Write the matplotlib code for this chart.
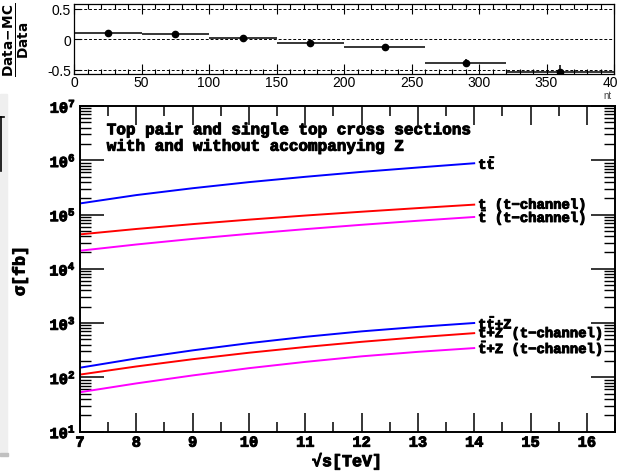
#!/usr/bin/env python3
import matplotlib
matplotlib.use("Agg")
import matplotlib.pyplot as plt
import matplotlib.patheffects as pe
from matplotlib.patches import Rectangle
from matplotlib.lines import Line2D
from matplotlib.ticker import LogLocator, NullFormatter, MultipleLocator

# --- data: cross sections [fb] vs sqrt(s) [TeV] ---
ENERGY = [7, 8, 9, 10, 11, 12, 13, 14]
TTBAR     = [1.60e5, 2.28e5, 3.05e5, 3.95e5, 4.95e5, 6.10e5, 7.35e5, 8.80e5]
T_TCH     = [4.30e4, 5.41e4, 6.65e4, 8.04e4, 9.57e4, 1.125e5, 1.312e5, 1.52e5]
TBAR_TCH  = [2.15e4, 2.80e4, 3.55e4, 4.40e4, 5.37e4, 6.46e4, 7.67e4, 9.00e4]
TTBAR_Z   = [150, 222, 313, 425, 556, 701, 847, 1000]
T_Z       = [112, 158, 215, 283, 361, 450, 546, 650]
TBAR_Z    = [53, 77, 108, 147, 192, 243, 294, 345]

SERIES = [
    (TTBAR,    "#0000ff", r"$\mathbf{t\bar{t}}$"),
    (T_TCH,    "#ff0000", "t (t\u2212channel)"),
    (TBAR_TCH, "#ff00ff", r"$\mathbf{\bar{t}}$ (t" + "\u2212channel)"),
    (TTBAR_Z,  "#0000ff", r"$\mathbf{t\bar{t}}$+Z"),
    (T_Z,      "#ff0000", "t+Z (t\u2212channel)"),
    (TBAR_Z,   "#ff00ff", r"$\mathbf{\bar{t}}$+Z (t" + "\u2212channel)"),
]

# --- data: ratio panel (cropped at top) ---
PT_LO = [0, 50, 100, 150, 200, 260, 320]
PT_HI = [50, 100, 150, 200, 260, 320, 400]
RATIO = [0.11, 0.08, 0.02, -0.055, -0.125, -0.39, -0.545]
RATIO_ERR = [0.01, 0.01, 0.01, 0.01, 0.01, 0.06, 0.125]

MONO = ["Liberation Mono", "DejaVu Sans Mono"]
plt.rcParams["font.family"] = MONO
plt.rcParams["font.weight"] = "bold"
plt.rcParams["mathtext.fontset"] = "custom"
plt.rcParams["mathtext.rm"] = "Liberation Mono:bold"
plt.rcParams["mathtext.bf"] = "Liberation Mono:bold"
plt.rcParams["mathtext.it"] = "Liberation Mono:bold"

HEAVY = [pe.withStroke(linewidth=0.7, foreground="black")]

W, H = 618, 477
fig = plt.figure(figsize=(W / 100, H / 100), dpi=100)

def fx(px):
    return px / W

def fy(py):
    return 1 - py / H

# left grey strip leftover from the screenshot
fig.patches.append(Rectangle((0, fy(455)), fx(7), fy(95) - fy(455),
                             transform=fig.transFigure, color="#efefef", zorder=0))
fig.patches.append(Rectangle((0, fy(457)), fx(8), fy(454) - fy(457),
                             transform=fig.transFigure, color="#c0c0c0", zorder=0))
fig.lines.append(Line2D([fx(1), fx(1)], [fy(118), fy(172)], transform=fig.transFigure,
                        color="black", lw=1.2))
fig.lines.append(Line2D([0, fx(4)], [fy(118), fy(118)], transform=fig.transFigure,
                        color="black", lw=1.2))

# --- top ratio panel ---
ax_r = fig.add_axes([fx(74), fy(75), fx(614) - fx(74), fy(5) - fy(75)])
xc = [(lo + hi) / 2 for lo, hi in zip(PT_LO, PT_HI)]
xw = [(hi - lo) / 2 for lo, hi in zip(PT_LO, PT_HI)]
for yv in (0.5, 0.0, -0.5):
    ax_r.axhline(yv, color="black", lw=0.7, ls=(0, (3, 2)))
ax_r.errorbar(xc, RATIO, xerr=xw, yerr=RATIO_ERR, fmt="o", color="black",
              ms=4.5, elinewidth=1.1, capsize=0)
ax_r.set_xlim(0, 400)
ax_r.set_ylim(-0.57, 0.58)
ax_r.set_xticks(range(0, 401, 50))
ax_r.set_xticklabels([str(v) for v in range(0, 401, 50)],
                     fontfamily="Liberation Sans", fontweight="normal", fontsize=10)
ax_r.xaxis.set_minor_locator(MultipleLocator(10))
ax_r.set_yticks([0.5, 0, -0.5])
ax_r.set_yticklabels(["0.5", "0", "-0.5"],
                     fontfamily="Liberation Sans", fontweight="normal", fontsize=10)
ax_r.tick_params(axis="x", which="major", direction="in", top=True, length=7, width=0.8, pad=1)
ax_r.tick_params(axis="x", which="minor", direction="in", top=True, length=3.5, width=0.8)
ax_r.tick_params(axis="y", direction="in", length=5, width=0.8, pad=2)
for s in ax_r.spines.values():
    s.set_linewidth(0.9)
fig.text(fx(17), fy(40), r"$\frac{\mathsf{Data\!-\!MC}}{\mathsf{Data}}$",
         rotation=90, ha="center", va="center", fontsize=14,
         math_fontfamily="dejavusans")
fig.text(fx(603), fy(96), "nt", fontfamily="Liberation Sans", fontweight="normal",
         fontsize=7, color="#444444", ha="left", va="center")

# --- main panel ---
ax = fig.add_axes([fx(80), fy(432.5), fx(615) - fx(80), fy(107) - fy(432.5)])
for vals, col, lab in SERIES:
    ax.plot(ENERGY, vals, color=col, lw=1.4)
    ax.text(ENERGY[-1] + 0.07, vals[-1], lab, fontsize=10, ha="left", va="center",
            path_effects=HEAVY)

ax.set_yscale("log")
ax.set_xlim(7, 16.5)
ax.set_ylim(10, 1e7)
ax.set_xticks(range(7, 17))
ax.set_xticklabels([str(v) for v in range(7, 17)], fontsize=11)
ax.xaxis.set_minor_locator(MultipleLocator(0.5))
ax.set_yticks([10 ** k for k in range(1, 8)])
ax.set_yticklabels([r"$\mathbf{10^{%d}}$" % k for k in range(1, 8)], fontsize=11)
ax.yaxis.set_minor_locator(LogLocator(base=10, subs=range(2, 10)))
ax.yaxis.set_minor_formatter(NullFormatter())
for lbl in ax.get_xticklabels() + ax.get_yticklabels():
    lbl.set_path_effects(HEAVY)
ax.tick_params(axis="x", which="major", direction="in", top=True, length=14, width=1.1, pad=3)
ax.tick_params(axis="x", which="minor", direction="in", top=True, length=7, width=1.1)
ax.tick_params(axis="y", which="major", direction="in", right=True, length=17, width=1.1, pad=3)
ax.tick_params(axis="y", which="minor", direction="in", right=True, length=8, width=1.0)
for s in ax.spines.values():
    s.set_linewidth(1.4)

ax.text(0.05, 0.95, "Top pair and single top cross sections\nwith and without accompanying Z",
        transform=ax.transAxes, fontsize=11.5, ha="left", va="top", linespacing=1.12,
        path_effects=HEAVY)

fig.text(fx(20), fy(272), "\u03c3[fb]", rotation=90, ha="center", va="center", fontsize=12,
         path_effects=HEAVY)
fig.text(fx(347), fy(462), "\u221as[TeV]", ha="center", va="center", fontsize=12,
         path_effects=HEAVY)

fig.savefig("out.png", dpi=100)
